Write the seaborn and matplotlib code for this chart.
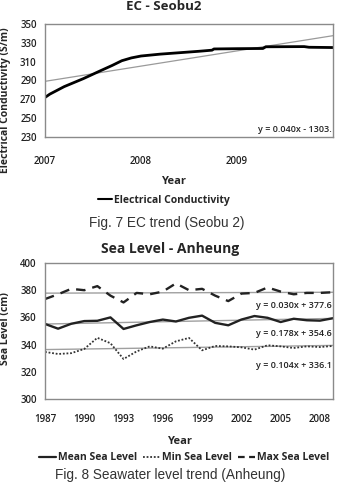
import numpy as np
import pandas as pd
import matplotlib
matplotlib.use("Agg")
import matplotlib.pyplot as plt
import seaborn as sns

# ---- data: EC (Seobu 2) ----
ec_time = [2007.00, 2007.05, 2007.20, 2007.40, 2007.57, 2007.70, 2007.80, 2007.90,
           2008.00, 2008.20, 2008.40, 2008.60, 2008.74, 2008.76, 2009.00, 2009.27,
           2009.30, 2009.70, 2009.75, 2010.00]
ec_value = [272, 275.5, 283.5, 292, 300, 306, 311, 314,
            316, 318, 319.5, 321, 322.2, 323.5, 323.8, 324,
            325.8, 326, 325.3, 325]

# ---- data: Sea level (Anheung) ----
years = list(range(1987, 2010))
mean_sl = [355.2, 351.7, 355.3, 357.3, 357.5, 360.0, 351.5, 354.2, 356.6, 358.4, 357.0, 359.7,
           361.3, 356.0, 354.2, 358.4, 361.0, 359.7, 356.6, 359.0, 357.9, 357.6, 359.4]
min_sl = [334.6, 333.1, 333.7, 336.8, 345.0, 341.0, 329.4, 335.0, 338.7, 337.0, 342.4, 344.9,
          335.8, 339.0, 338.7, 338.0, 336.3, 339.5, 338.7, 337.5, 338.7, 338.2, 339.0]
max_sl = [373.5, 377.0, 381.0, 380.0, 383.0, 376.0, 371.0, 378.0, 377.0, 379.0, 385.0, 380.0,
          381.0, 376.0, 372.0, 377.5, 378.0, 382.0, 379.0, 377.0, 378.0, 378.0, 378.5]
trend_labels = ["y = 0.030x + 377.6", "y = 0.178x + 354.6", "y = 0.104x + 336.1"]
ec_trend_label = "y = 0.040x - 1303."

sns.set_style("white")
plt.rcParams['font.family'] = ['Open Sans', 'DejaVu Sans']

W, H = 338, 483
fig = plt.figure(figsize=(W / 100, H / 100), dpi=100)

def fx(px):
    return px / W

def fy(py):
    return 1 - py / H

spine_c = "#8a8a8a"
tick_kw = dict(labelsize=7, colors="#222222")

# ---------- Top axes ----------
ax1 = fig.add_axes([fx(45), fy(137), fx(333 - 45), (137 - 24) / H])
df_ec = pd.DataFrame({"t": ec_time, "v": ec_value})
sns.lineplot(data=df_ec, x="t", y="v", ax=ax1, color="black", lw=2.0, legend=False)
coef = np.polyfit(ec_time, ec_value, 1)
tt = np.array([2007.0, 2010.0])
ax1.plot(tt, np.polyval(coef, tt), color="#9a9a9a", lw=0.9, zorder=1)
ax1.set_xlim(2007, 2010)
ax1.set_ylim(230, 350)
ax1.set_yticks(range(230, 351, 20))
ax1.set_xticks([2007, 2008, 2009])
ax1.set_xticklabels(["2007", "2008", "2009"], fontweight="semibold")
for lab in ax1.get_yticklabels():
    lab.set_fontweight("semibold")
ax1.tick_params(axis="y", length=3, width=0.8, color=spine_c, pad=3, **tick_kw)
ax1.tick_params(axis="x", length=3, width=0.8, direction="in", color=spine_c, pad=14, **tick_kw)
ax1.set_xlabel("")
ax1.set_ylabel("")
for s in ax1.spines.values():
    s.set_color(spine_c)
    s.set_linewidth(1.0)
ax1.text(0.995, 0.03, ec_trend_label, transform=ax1.transAxes, ha="right", va="bottom",
         fontsize=6.5, fontweight="semibold", color="#222222")

fig.text(fx(164), fy(0), "EC - Seobu2", ha="center", va="top", fontsize=9.5, fontweight="bold")
fig.text(fx(6), fy(100), "Electrical Conductivity (S/m)", rotation=90, ha="center", va="center",
         fontsize=7.5, fontweight="bold")
fig.text(fx(174), fy(182), "Year", ha="center", va="center", fontsize=8, fontweight="bold")
h1, = ax1.plot([], [], color="black", lw=1.5, label="Electrical Conductivity")
fig.legend(handles=[h1], loc="center", bbox_to_anchor=(fx(164), fy(200)), frameon=False,
           prop=dict(size=7.5, weight="bold"), handlelength=1.3, handletextpad=0.2,
           borderpad=0, borderaxespad=0)
fig.text(fx(167), fy(223), "Fig. 7 EC trend (Seobu 2)", ha="center", va="center",
         fontsize=9.8, color="#333333", family=["Liberation Sans", "DejaVu Sans"])

# ---------- Bottom axes ----------
ax2 = fig.add_axes([fx(45), fy(399), fx(333 - 45), (399 - 263) / H])
df_sl = pd.DataFrame({"year": years, "Mean Sea Level": mean_sl,
                      "Min Sea Level": min_sl, "Max Sea Level": max_sl})
sns.lineplot(data=df_sl, x="year", y="Mean Sea Level", ax=ax2, color="#222222", lw=1.7)
sns.lineplot(data=df_sl, x="year", y="Min Sea Level", ax=ax2, color="#333333", lw=1.3,
             linestyle=(0, (1, 1)))
sns.lineplot(data=df_sl, x="year", y="Max Sea Level", ax=ax2, color="#222222", lw=1.7,
             linestyle=(0, (4, 3)))
xs = np.array(years, dtype=float)
for series in (max_sl, mean_sl, min_sl):
    c = np.polyfit(xs, series, 1)
    ax2.plot(xs, np.polyval(c, xs), color="#a0a0a0", lw=1.0, zorder=1)
ax2.set_xlim(1987, 2009)
ax2.set_ylim(300, 400)
ax2.set_yticks(range(300, 401, 20))
ax2.set_xticks(list(range(1987, 2009, 3)))
for lab in ax2.get_xticklabels() + ax2.get_yticklabels():
    lab.set_fontweight("semibold")
ax2.tick_params(axis="y", length=3, width=0.8, color=spine_c, pad=3, **tick_kw)
ax2.tick_params(axis="x", length=3, width=0.8, color=spine_c, pad=8, **tick_kw)
ax2.set_xlabel("")
ax2.set_ylabel("")
for s in ax2.spines.values():
    s.set_color(spine_c)
    s.set_linewidth(1.0)
for lbl, py in zip(trend_labels, [306, 333, 365]):
    ax2.text(0.995, (399 - py) / (399 - 263), lbl, transform=ax2.transAxes, ha="right",
             va="center", fontsize=6.5, fontweight="semibold", color="#222222")

fig.text(fx(170), fy(249), "Sea Level - Anheung", ha="center", va="center", fontsize=10,
         fontweight="bold")
fig.text(fx(6), fy(329), "Sea Level (cm)", rotation=90, ha="center", va="center",
         fontsize=7.5, fontweight="bold")
fig.text(fx(180), fy(442), "Year", ha="center", va="center", fontsize=8, fontweight="bold")
hm, = ax2.plot([], [], color="#222222", lw=1.6, label="Mean Sea Level")
hn, = ax2.plot([], [], color="#333333", lw=1.3, linestyle=(0, (1, 1)), label="Min Sea Level")
hx, = ax2.plot([], [], color="#222222", lw=1.6, linestyle=(0, (3, 2)), label="Max Sea Level")
fig.legend(handles=[hm, hn, hx], loc="center", bbox_to_anchor=(fx(184), fy(458)), ncol=3,
           frameon=False, prop=dict(size=7.5, weight="bold"), handlelength=1.6,
           handletextpad=0.2, columnspacing=0.6, borderpad=0, borderaxespad=0)
fig.text(fx(170), fy(482), "Fig. 8 Seawater level trend (Anheung)", ha="center", va="bottom",
         fontsize=9.8, color="#333333", family=["Liberation Sans", "DejaVu Sans"])

fig.savefig("out.png", dpi=100)
